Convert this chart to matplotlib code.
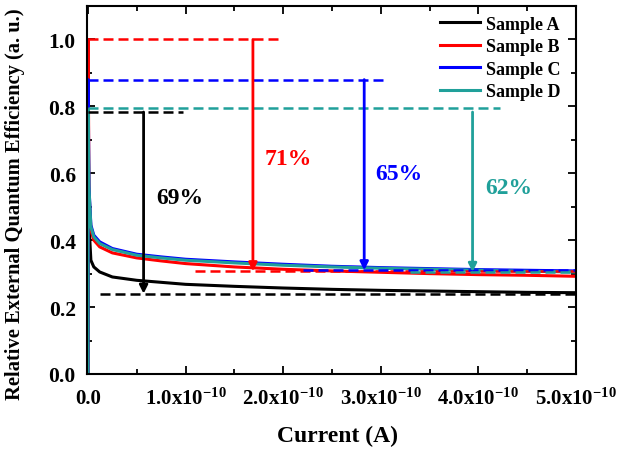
import numpy as np
import matplotlib.pyplot as plt
from matplotlib.ticker import MultipleLocator, FuncFormatter

plt.rcParams['font.family'] = ['Liberation Serif', 'DejaVu Serif']
plt.rcParams['font.weight'] = 'bold'
plt.rcParams['mathtext.fontset'] = 'custom'
plt.rcParams['mathtext.rm'] = 'Liberation Serif:bold'
plt.rcParams['mathtext.bf'] = 'Liberation Serif:bold'
plt.rcParams['mathtext.default'] = 'bf'

# current (A) and relative EQE of each sample
current = np.array([0, 0.002, 0.01, 0.03, 0.06, 0.12, 0.25, 0.5, 0.75, 1.0,
                    1.5, 2.0, 2.5, 3.0, 3.5, 4.0, 4.5, 5.0]) * 1e-10
eqe_a = [0, 0.78, 0.45, 0.34, 0.32, 0.305, 0.29, 0.28, 0.274, 0.268,
         0.262, 0.257, 0.253, 0.250, 0.248, 0.246, 0.244, 0.243]
eqe_b = [0, 1.00, 0.55, 0.43, 0.40, 0.38, 0.362, 0.347, 0.338, 0.330,
         0.320, 0.313, 0.308, 0.304, 0.300, 0.297, 0.295, 0.292]
eqe_c = [0, 0.88, 0.56, 0.445, 0.415, 0.395, 0.375, 0.358, 0.350, 0.343,
         0.335, 0.328, 0.322, 0.318, 0.315, 0.312, 0.310, 0.308]
eqe_d = [0, 0.79, 0.56, 0.44, 0.41, 0.39, 0.372, 0.355, 0.347, 0.340,
         0.332, 0.325, 0.320, 0.316, 0.313, 0.310, 0.307, 0.305]

labels = ['Sample A', 'Sample B', 'Sample C', 'Sample D']
colors = ['black', 'red', 'blue', '#20a09a']
series = [eqe_a, eqe_b, eqe_c, eqe_d]

# droop annotations: peak, floor, arrow position, text
peaks = [0.783, 1.0, 0.88, 0.795]
floors = [0.24, 0.307, 0.31, 0.305]
peak_ends = [0.97e-10, 2.0e-10, 3.06e-10, 4.22e-10]
floor_starts = [0.12e-10, 1.1e-10, 2.2e-10, 3.3e-10]
arrow_x = [0.57e-10, 1.69e-10, 2.83e-10, 3.94e-10]
arrow_top = [0.783, 1.0, 0.88, 0.783]
droop_text = ['69%', '71%', '65%', '62%']
text_pos = [(0.94e-10, 0.528), (2.05e-10, 0.645), (3.19e-10, 0.60), (4.31e-10, 0.557)]

x_ticks = [0, 1e-10, 2e-10, 3e-10, 4e-10, 5e-10]
y_ticks = [0.0, 0.2, 0.4, 0.6, 0.8, 1.0]

fig = plt.figure(figsize=(6.33, 4.52), dpi=100)
ax = fig.add_axes([0.1374, 0.1704, 0.7726, 0.8141])

for y, c, lab in zip(series, colors, labels):
    ax.plot(current, y, color=c, lw=2.2, label=lab)

for i in range(4):
    c = colors[i]
    ax.plot([0, peak_ends[i]], [peaks[i], peaks[i]], color=c, lw=1.8, dashes=(4, 2))
    ax.plot([floor_starts[i], 5e-10], [floors[i], floors[i]], color=c, lw=1.8, dashes=(4, 2))
    ax.annotate('', xy=(arrow_x[i], floors[i]), xytext=(arrow_x[i], arrow_top[i]),
                arrowprops=dict(arrowstyle='-|>', color=c, lw=2, mutation_scale=12,
                                shrinkA=0, shrinkB=0))
    ax.text(text_pos[i][0], text_pos[i][1], droop_text[i], color=c, fontsize=17,
            fontweight='bold', ha='center', va='center')

ax.set_xlim(-0.01e-10, 5e-10)
ax.set_ylim(0, 1.1)
ax.set_xticks(x_ticks)
ax.set_yticks(y_ticks)
ax.xaxis.set_minor_locator(MultipleLocator(0.5e-10))
ax.yaxis.set_minor_locator(MultipleLocator(0.1))


def fmt_x(v, pos):
    if abs(v) < 1e-14:
        return '0.0'
    return r'%.1fx10$^{-10}$' % (v / 1e-10)


ax.xaxis.set_major_formatter(FuncFormatter(fmt_x))
ax.yaxis.set_major_formatter(FuncFormatter(lambda v, p: '%.1f' % v))
ax.tick_params(which='both', direction='in', top=True, right=True, width=1.3)
ax.tick_params(axis='x', labelsize=15, pad=10)
ax.tick_params(axis='y', labelsize=15.5, pad=8)
ax.tick_params(which='major', length=6)
ax.tick_params(which='minor', length=3.5)
for s in ax.spines.values():
    s.set_linewidth(1.5)

ax.set_xlabel('Current (A)', fontsize=17, fontweight='bold')
ax.xaxis.set_label_coords(0.512, -0.138)
ax.set_ylabel('Relative External Quantum Efficiency (a. u.)', fontsize=14.8,
              fontweight='bold')
ax.yaxis.set_label_coords(-0.127, 0.465)

leg = ax.legend(loc='upper right', bbox_to_anchor=(0.982, 0.993), frameon=False,
                fontsize=13, handlelength=2.2, labelspacing=0.3, borderaxespad=0,
                handletextpad=0.3)

fig.savefig('out.png', dpi=100)
